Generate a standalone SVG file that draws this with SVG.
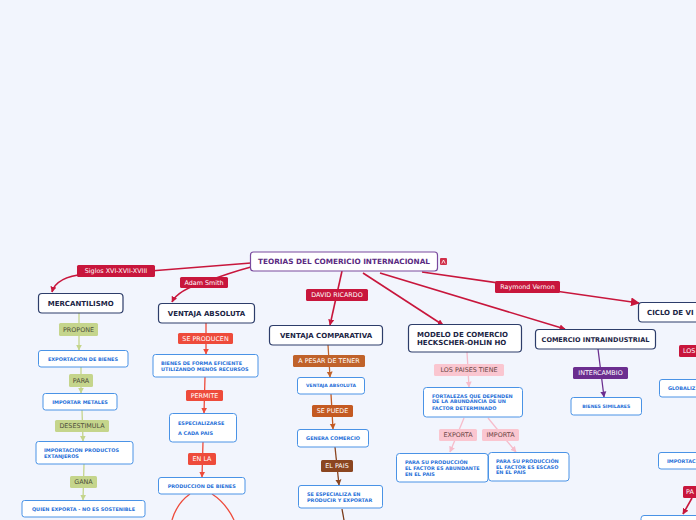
<svg xmlns="http://www.w3.org/2000/svg" width="696" height="520" viewBox="0 0 696 520">
<defs>
<style>
.main{fill:#fff;stroke:#2d3d6a;stroke-width:1.2}
.sub{fill:#fff;stroke:#4a93e6;stroke-width:1}
.mt{font-family:"DejaVu Sans",sans-serif;font-weight:bold;font-size:7px;fill:#1b2444}
.st{font-family:"DejaVu Sans",sans-serif;font-weight:bold;font-size:4.95px;fill:#1f6fd8}
.lt{font-family:"DejaVu Sans",sans-serif;font-size:6.4px;text-anchor:middle}
.c{text-anchor:middle}
.ln{fill:none;stroke-width:1.3}
.tl{fill:none;stroke:#c8163c;stroke-width:1.6}
</style>
<marker id="aR" viewBox="0 0 10 10" refX="9" refY="5" markerWidth="6" markerHeight="6" orient="auto" markerUnits="userSpaceOnUse"><path d="M0,0L10,5L0,10z" fill="#c8163c"/></marker>
<marker id="aRb" viewBox="0 0 10 10" refX="9" refY="5" markerWidth="9" markerHeight="9" orient="auto" markerUnits="userSpaceOnUse"><path d="M0,0L10,5L0,10z" fill="#c8163c"/></marker>
<marker id="aG" viewBox="0 0 10 10" refX="9" refY="5" markerWidth="6" markerHeight="7" orient="auto" markerUnits="userSpaceOnUse"><path d="M0,0L10,5L0,10z" fill="#c5d58c"/></marker>
<marker id="aO" viewBox="0 0 10 10" refX="9" refY="5" markerWidth="6" markerHeight="7" orient="auto" markerUnits="userSpaceOnUse"><path d="M0,0L10,5L0,10z" fill="#ee4b3b"/></marker>
<marker id="aB1" viewBox="0 0 10 10" refX="9" refY="5" markerWidth="6" markerHeight="7" orient="auto" markerUnits="userSpaceOnUse"><path d="M0,0L10,5L0,10z" fill="#c0622a"/></marker>
<marker id="aB2" viewBox="0 0 10 10" refX="9" refY="5" markerWidth="6" markerHeight="7" orient="auto" markerUnits="userSpaceOnUse"><path d="M0,0L10,5L0,10z" fill="#c45a22"/></marker>
<marker id="aB3" viewBox="0 0 10 10" refX="9" refY="5" markerWidth="6" markerHeight="7" orient="auto" markerUnits="userSpaceOnUse"><path d="M0,0L10,5L0,10z" fill="#8b4520"/></marker>
<marker id="aP" viewBox="0 0 10 10" refX="9" refY="5" markerWidth="6" markerHeight="7" orient="auto" markerUnits="userSpaceOnUse"><path d="M0,0L10,5L0,10z" fill="#f6bccb"/></marker>
<marker id="aV" viewBox="0 0 10 10" refX="9" refY="5" markerWidth="6" markerHeight="7" orient="auto" markerUnits="userSpaceOnUse"><path d="M0,0L10,5L0,10z" fill="#6b2d8f"/></marker>
</defs>
<rect width="696" height="520" fill="#f2f5fd"/>

<g id="connectors">
<path class="tl" d="M251,263 L150,271 L85,274 Q56,277 52,292" marker-end="url(#aR)"/>
<path class="tl" d="M251,267 Q232,272 205,282 Q178,290 172,302" marker-end="url(#aR)"/>
<path class="tl" d="M342,271 L330,325" marker-end="url(#aR)"/>
<path class="tl" d="M363,273 L443,325" marker-end="url(#aR)"/>
<path class="tl" d="M380,273 L565,329" marker-end="url(#aR)"/>
<path class="tl" d="M422,272 L639,303" marker-end="url(#aRb)"/>
<path class="tl" d="M692,498 L683,514" marker-end="url(#aR)"/>

<path class="ln" stroke="#c5d58c" d="M79,313 L79,350" marker-end="url(#aG)"/>
<path class="ln" stroke="#c5d58c" d="M81,367 L81,393" marker-end="url(#aG)"/>
<path class="ln" stroke="#c5d58c" d="M82,410 L83,441" marker-end="url(#aG)"/>
<path class="ln" stroke="#c5d58c" d="M84,464 L83,500" marker-end="url(#aG)"/>

<path class="ln" stroke="#ee4b3b" d="M206,323 L206,354" marker-end="url(#aO)"/>
<path class="ln" stroke="#ee4b3b" d="M205,377 L204,413" marker-end="url(#aO)"/>
<path class="ln" stroke="#ee4b3b" d="M203,442 L202,477" marker-end="url(#aO)"/>
<path class="ln" stroke="#ee4b3b" d="M190,494 Q177,503 172,520"/>
<path class="ln" stroke="#ee4b3b" d="M212,494 Q226,503 234,520"/>

<path class="ln" stroke="#c0622a" d="M328,345 L330,377" marker-end="url(#aB1)"/>
<path class="ln" stroke="#c45a22" d="M331,394 L333,429" marker-end="url(#aB2)"/>
<path class="ln" stroke="#8b4520" d="M335,447 L339,485" marker-end="url(#aB3)"/>
<path class="ln" stroke="#7a3b1a" d="M342,509 L344,520"/>

<path class="ln" stroke="#f6bccb" d="M467,352 L469,387" marker-end="url(#aP)"/>
<path class="ln" stroke="#f6bccb" d="M464,418 L450,452" marker-end="url(#aP)"/>
<path class="ln" stroke="#f6bccb" d="M488,418 L516,452" marker-end="url(#aP)"/>

<path class="ln" stroke="#6b2d8f" d="M598,349 L604,397" marker-end="url(#aV)"/>
</g>

<g id="labels">
<rect x="77" y="265" width="78" height="12" rx="1.5" fill="#c8163c"/><text class="lt" x="116" y="273.3" fill="#fff">Siglos XVI-XVII-XVIII</text>
<rect x="180" y="277" width="48" height="11" rx="1.5" fill="#c8163c"/><text class="lt" x="204" y="284.8" fill="#fff">Adam Smith</text>
<rect x="306" y="289" width="62" height="12" rx="1.5" fill="#c8163c"/><text class="lt" x="337" y="297.3" fill="#fff">DAVID RICARDO</text>
<rect x="495" y="281" width="65" height="12" rx="1.5" fill="#c8163c"/><text class="lt" x="527.5" y="289.3" fill="#fff">Raymond Vernon</text>

<rect x="59" y="323" width="39" height="13" rx="1.5" fill="#c5d58c"/><text class="lt" x="78.5" y="331.8" fill="#4d4d3a">PROPONE</text>
<rect x="69" y="374" width="24" height="13" rx="1.5" fill="#c5d58c"/><text class="lt" x="81" y="382.8" fill="#4d4d3a">PARA</text>
<rect x="55" y="420" width="54" height="12" rx="1.5" fill="#c5d58c"/><text class="lt" x="82" y="428.3" fill="#4d4d3a">DESESTIMULA</text>
<rect x="70" y="476" width="27" height="12" rx="1.5" fill="#c5d58c"/><text class="lt" x="83.5" y="484.3" fill="#4d4d3a">GANA</text>

<rect x="178" y="333" width="55" height="11" rx="1.5" fill="#ee4b3b"/><text class="lt" x="205.5" y="340.8" fill="#fff">SE PRODUCEN</text>
<rect x="186" y="390" width="37" height="11" rx="1.5" fill="#ee4b3b"/><text class="lt" x="204.5" y="397.8" fill="#fff">PERMITE</text>
<rect x="188" y="453" width="28" height="12" rx="1.5" fill="#ee4b3b"/><text class="lt" x="202" y="461.3" fill="#fff">EN LA</text>

<rect x="293" y="355" width="72" height="12" rx="1.5" fill="#c0622a"/><text class="lt" x="329" y="363.3" fill="#fff">A PESAR DE TENER</text>
<rect x="312" y="405" width="41" height="12" rx="1.5" fill="#c45a22"/><text class="lt" x="332.5" y="413.3" fill="#fff">SE PUEDE</text>
<rect x="321" y="460" width="32" height="12" rx="1.5" fill="#8b4520"/><text class="lt" x="337" y="468.3" fill="#fff">EL PAIS</text>

<rect x="434" y="364" width="70" height="12" rx="1.5" fill="#fac6d0"/><text class="lt" x="469" y="372.3" fill="#6a4545">LOS PAISES TIENE</text>
<rect x="439" y="429" width="38" height="12" rx="1.5" fill="#fac6d0"/><text class="lt" x="458" y="437.3" fill="#6a4545">EXPORTA</text>
<rect x="482" y="429" width="37" height="12" rx="1.5" fill="#fac6d0"/><text class="lt" x="500.5" y="437.3" fill="#6a4545">IMPORTA</text>

<rect x="573" y="367" width="55" height="12" rx="1.5" fill="#6b2d8f"/><text class="lt" x="600.5" y="375.3" fill="#fff">INTERCAMBIO</text>

<rect x="679" y="345" width="20" height="12" rx="1.5" fill="#c8163c"/><text class="lt" x="683" y="353.3" fill="#fff" style="text-anchor:start">LOS</text>
<rect x="683" y="486" width="16" height="12" rx="1.5" fill="#c8163c"/><text class="lt" x="686" y="494.3" fill="#fff" style="text-anchor:start">PA</text>
</g>

<g id="title">
<rect x="250.5" y="252" width="187" height="19" rx="3" fill="#fff" stroke="#7a4a9e" stroke-width="1.2"/>
<text class="mt c" x="344" y="264.2" style="fill:#5a2a82;font-size:7.3px">TEORIAS DEL COMERICIO INTERNACIONAL</text>
<rect x="440" y="258" width="7" height="7" rx="1" fill="#d0304a"/>
<path d="M441.8,263.5 L443.5,260 L445.2,263.5" fill="none" stroke="#fff" stroke-width="0.8"/>
</g>

<g id="mercantilismo">
<rect class="main" x="38.5" y="293.5" width="84.5" height="19.5" rx="3.5"/>
<text class="mt c" x="80.7" y="305.7">MERCANTILISMO</text>
</g>
<g id="exportacion-bienes">
<rect class="sub" x="38.5" y="350.5" width="89.5" height="16.5" rx="2.5"/>
<text class="st c" x="83" y="360.6">EXPORTACION DE BIENES</text>
</g>
<g id="importar-metales">
<rect class="sub" x="43" y="393.5" width="74" height="16.5" rx="2.5"/>
<text class="st c" x="80" y="403.6">IMPORTAR METALES</text>
</g>
<g id="importacion-productos">
<rect class="sub" x="36" y="441.5" width="97" height="22.5" rx="2.5"/>
<text class="st" x="44" y="451.8">IMPORTACION PRODUCTOS</text>
<text class="st" x="44" y="457.8">EXTANJEROS</text>
</g>
<g id="quien-exporta">
<rect class="sub" x="22" y="500.5" width="123" height="16.5" rx="2.5"/>
<text class="st c" x="83.5" y="510.6">QUIEN EXPORTA - NO ES SOSTENIBLE</text>
</g>

<g id="ventaja-absoluta">
<rect class="main" x="158.5" y="303.5" width="96" height="19.5" rx="3.5"/>
<text class="mt c" x="206.5" y="315.7">VENTAJA ABSOLUTA</text>
</g>
<g id="bienes-eficiente">
<rect class="sub" x="153" y="354.5" width="105" height="22.5" rx="2.5"/>
<text class="st" x="161" y="364.8">BIENES DE FORMA EFICIENTE</text>
<text class="st" x="161" y="370.8">UTILIZANDO MENOS RECURSOS</text>
</g>
<g id="especializarse">
<rect class="sub" x="169.5" y="413.5" width="67" height="28.5" rx="3"/>
<text class="st" x="178" y="424.8">ESPECIALIZARSE</text>
<text class="st" x="178" y="434.8">A CADA PAIS</text>
</g>
<g id="produccion-bienes">
<rect class="sub" x="158.5" y="477.5" width="86.5" height="16.5" rx="2.5"/>
<text class="st c" x="201.7" y="487.6">PRODUCCION DE BIENES</text>
</g>

<g id="ventaja-comparativa">
<rect class="main" x="269.5" y="325.5" width="113" height="19.5" rx="3.5"/>
<text class="mt c" x="326" y="337.7">VENTAJA COMPARATIVA</text>
</g>
<g id="ventaja-absoluta-2">
<rect class="sub" x="297.5" y="377.5" width="67" height="16.5" rx="2.5"/>
<text class="st c" x="331" y="387.3" style="font-size:4.5px">VENTAJA ABSOLUTA</text>
</g>
<g id="genera-comercio">
<rect class="sub" x="297.5" y="429.5" width="71" height="17.5" rx="2.5"/>
<text class="st c" x="333" y="439.9">GENERA COMERCIO</text>
</g>
<g id="se-especializa">
<rect class="sub" x="298.5" y="485.5" width="84" height="22.5" rx="2.5"/>
<text class="st" x="307" y="495.8">SE ESPECIALIZA EN</text>
<text class="st" x="307" y="501.8">PRODUCIR Y EXPORTAR</text>
</g>

<g id="heckscher-ohlin">
<rect class="main" x="408.5" y="324.5" width="113" height="27.5" rx="3.5"/>
<text class="mt" x="417" y="336.5">MODELO DE COMERCIO</text>
<text class="mt" x="417" y="344.5">HECKSCHER-OHLIN HO</text>
</g>
<g id="fortalezas">
<rect class="sub" x="423.5" y="387.5" width="99" height="29.5" rx="3"/>
<text class="st" x="432" y="397.7">FORTALEZAS QUE DEPENDEN</text>
<text class="st" x="432" y="403.3">DE LA ABUNDANCIA DE UN</text>
<text class="st" x="432" y="409.7">FACTOR DETERMINADO</text>
</g>
<g id="factor-abundante">
<rect class="sub" x="396.5" y="453.5" width="91.5" height="28.5" rx="3"/>
<text class="st" x="405" y="463.7">PARA SU PRODUCCIÓN</text>
<text class="st" x="405" y="469.7">EL FACTOR ES ABUNDANTE</text>
<text class="st" x="405" y="475.7">EN EL PAIS</text>
</g>
<g id="factor-escaso">
<rect class="sub" x="488.5" y="452.5" width="80.5" height="28.5" rx="3"/>
<text class="st" x="496" y="462.7">PARA SU PRODUCCIÓN</text>
<text class="st" x="496" y="468.7">EL FACTOR ES ESCASO</text>
<text class="st" x="496" y="474.2">EN EL PAIS</text>
</g>

<g id="comercio-intraindustrial">
<rect class="main" x="535.5" y="329.5" width="120" height="19.5" rx="3.5"/>
<text class="mt c" x="595.5" y="341.8" style="font-size:6.5px">COMERCIO INTRAINDUSTRIAL</text>
</g>
<g id="bienes-similares">
<rect class="sub" x="571" y="397.5" width="70.5" height="17.5" rx="2.5"/>
<text class="st c" x="606.3" y="407.8" style="font-size:4.6px">BIENES SIMILARES</text>
</g>

<g id="ciclo-vida">
<rect class="main" x="638.5" y="302.5" width="70" height="19.5" rx="3.5"/>
<text class="mt" x="647" y="314.7">CICLO DE VI</text>
</g>
<g id="globalizacion">
<rect class="sub" x="659.5" y="379.5" width="50" height="17.5" rx="2.5"/>
<text class="st" x="668" y="389.9">GLOBALIZ</text>
</g>
<g id="importacion">
<rect class="sub" x="658.5" y="452.5" width="50" height="16.5" rx="2.5"/>
<text class="st" x="667" y="462.6">IMPORTAC</text>
</g>
<g id="bottom-right">
<rect class="sub" x="641" y="515.5" width="70" height="16" rx="3"/>
</g>
</svg>
